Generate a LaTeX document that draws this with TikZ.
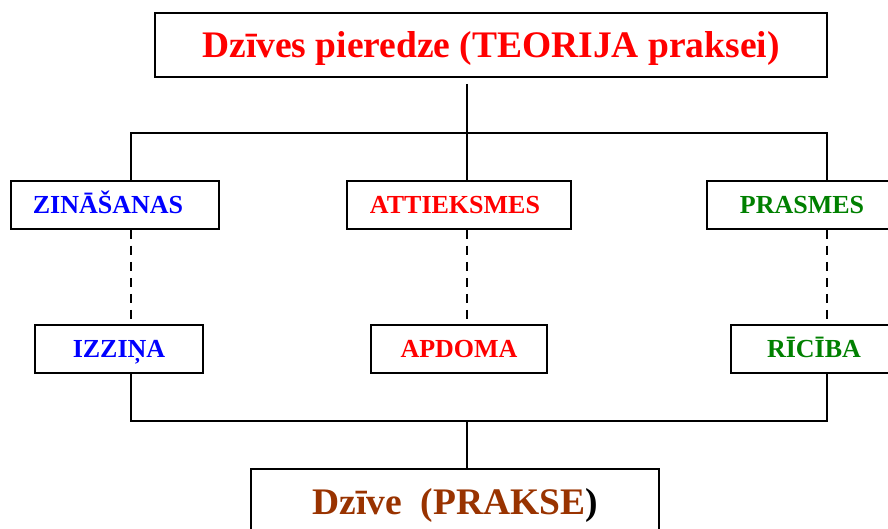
\documentclass[tikz,border=0pt]{standalone}
\usepackage{fontspec}
\setmainfont{Liberation Serif}
\definecolor{cred}{RGB}{255,0,0}
\definecolor{cblue}{RGB}{0,0,255}
\definecolor{cgreen}{RGB}{0,128,0}
\definecolor{cbrown}{RGB}{153,51,0}
\begin{document}
\begin{tikzpicture}[x=1pt,y=-1pt,
  box/.style={draw=black, line width=1.5pt, fill=white, rectangle, inner sep=0pt, font=\bfseries, text depth=0pt},
  big/.style={box, text height=24.8pt, font=\bfseries\fontsize{37.5}{40}\selectfont},
  mid/.style={box, minimum height=48pt, text height=17.3pt, font=\bfseries\fontsize{26}{30}\selectfont},
  conn/.style={draw=black, line width=1.2pt},
  dconn/.style={conn, line width=1.4pt, dash pattern=on 9pt off 7pt}]
\useasboundingbox (0,0) rectangle (888,529);
\clip (0,0) rectangle (888,529);
\node[big, minimum width=672pt, minimum height=64pt, text=cred] (top) at (491,45) {Dzīves pieredze (TEORIJA praksei)};
\node[mid, minimum width=208pt, text=cblue] (zin) at (115,205) {\hspace*{-14pt}ZINĀŠANAS};
\node[mid, minimum width=224pt, text=cred] (att) at (459,205) {\hspace*{-8pt}ATTIEKSMES};
\node[mid, minimum width=190pt, text=cgreen] (pra) at (802,205) {PRASMES};
\node[mid, minimum width=168pt, text=cblue] (izz) at (119,349) {IZZIŅA};
\node[mid, minimum width=176pt, text=cred] (apd) at (459,349) {APDOMA};
\node[mid, minimum width=166pt, text=cgreen] (ric) at (814,349) {RĪCĪBA};
\node[big, minimum width=408pt, minimum height=66pt, text=cbrown] (bot) at (455,502) {Dzīve~~(PRAKSE\textcolor{black}{)}};
\coordinate (tM) at (467,84);
\coordinate (cL) at (131,133);
\coordinate (cM) at (467,133);
\coordinate (cR) at (827,133);
\coordinate (bL) at (131,421);
\coordinate (bM) at (467,421);
\coordinate (bR) at (827,421);
\draw[conn] (tM) -- (cM) -- (att.north -| cM);
\draw[conn] (zin.north -| cL) -- (cL) -- (cR) -- (pra.north -| cR);
\draw[dconn] (zin.south -| cL) -- (izz.north -| cL);
\draw[dconn] (att.south -| cM) -- (apd.north -| cM);
\draw[dconn] (pra.south -| cR) -- (ric.north -| cR);
\draw[conn] (izz.south -| bL) -- (bL) -- (bR) -- (ric.south -| bR);
\draw[conn] (bM) -- (bot.north -| bM);
\end{tikzpicture}
\end{document}
